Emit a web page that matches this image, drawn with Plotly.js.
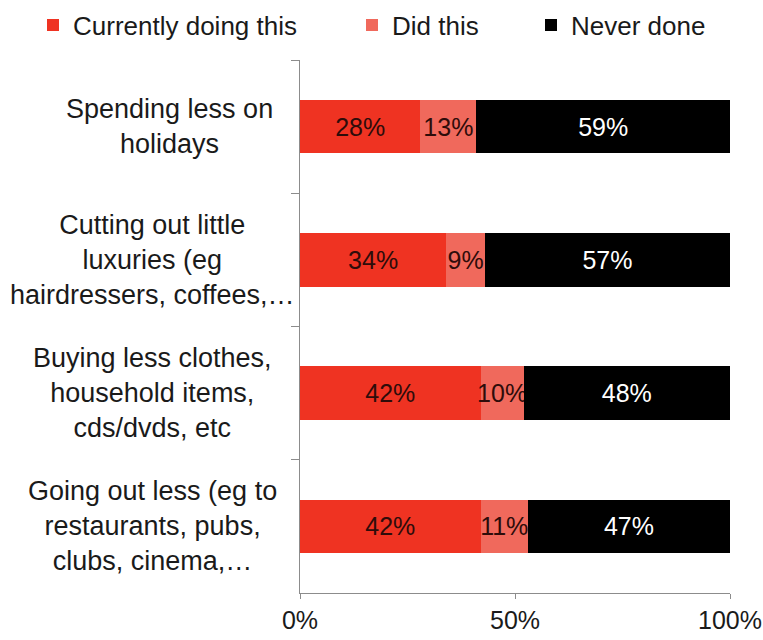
<!DOCTYPE html>
<html>
<head>
<meta charset="utf-8">
<script src="https://cdn.plot.ly/plotly-3.0.1.min.js"></script>
<style>
  html, body { margin: 0; padding: 0; background: #fff; }
  #chart { width: 763px; height: 640px; }
</style>
</head>
<body>
<div id="chart"></div>
<script>
// ---- data ----
var categories = [
  "Spending less on<br>holidays",
  "Cutting out little<br>luxuries (eg<br>hairdressers, coffees,…",
  "Buying less clothes,<br>household items,<br>cds/dvds, etc",
  "Going out less (eg to<br>restaurants, pubs,<br>clubs, cinema,…"
];
var categoryKeys = ["holidays", "luxuries", "clothes", "goingout"];
var seriesNames = ["Currently doing this", "Did this", "Never done"];
var currentlyDoing = [28, 34, 42, 42];
var didThis = [13, 9, 10, 11];
var neverDone = [59, 57, 48, 47];
var xTickVals = [0, 50, 100];
var xTickText = ["0%", "50%", "100%"];

// ---- styling ----
var FONT = "Liberation Sans, Arial, sans-serif";
var colors = ["#EF3322", "#F0695C", "#000000"];
var textColors = ["#2e0c0a", "#2e0c0a", "#ffffff"];
var values = [currentlyDoing, didThis, neverDone];
var legendNames = ["legend", "legend2", "legend3"];

var traces = values.map(function (vals, i) {
  return {
    type: "bar",
    orientation: "h",
    name: seriesNames[i],
    x: vals,
    y: categoryKeys,
    marker: { color: colors[i], line: { width: 0 } },
    text: vals.map(function (v) { return v + "%"; }),
    textposition: "inside",
    insidetextanchor: "middle",
    textangle: 0,
    constraintext: "none",
    textfont: { family: FONT, size: 25, color: textColors[i] },
    hoverinfo: "name+x",
    legend: legendNames[i],
    cliponaxis: false
  };
});

var annotations = categories.map(function (c, i) {
  return {
    xref: "paper", yref: "y",
    x: 0, y: categoryKeys[i],
    xanchor: "center", yanchor: "middle",
    xshift: i === 0 ? -131 : -148,
    text: c,
    showarrow: false,
    align: "center",
    font: { family: FONT, size: 27, color: "#1a1a1a" }
  };
});

function legendAt(px) {
  return {
    orientation: "h",
    xref: "container", yref: "container",
    x: px / 763, y: 1 - 25 / 640,
    xanchor: "left", yanchor: "middle",
    font: { family: FONT, size: 26, color: "#1a1a1a" },
    bgcolor: "rgba(0,0,0,0)",
    itemclick: false, itemdoubleclick: false
  };
}

var layout = {
  width: 763, height: 640,
  margin: { l: 300, r: 33, t: 60, b: 47, pad: 0 },
  paper_bgcolor: "#ffffff",
  plot_bgcolor: "#ffffff",
  barmode: "stack",
  bargap: 0.6,
  showlegend: true,
  legend: legendAt(33),
  legend2: legendAt(352),
  legend3: legendAt(531),
  xaxis: {
    range: [0, 100],
    tickvals: xTickVals,
    ticktext: xTickText,
    showgrid: false,
    zeroline: false,
    showline: true,
    linecolor: "#8c8c8c",
    linewidth: 1,
    ticks: "outside",
    ticklen: 5,
    tickcolor: "#8c8c8c",
    tickfont: { family: FONT, size: 25, color: "#1a1a1a" },
    fixedrange: true
  },
  yaxis: {
    type: "category",
    categoryorder: "array",
    categoryarray: categoryKeys,
    autorange: "reversed",
    tickson: "boundaries",
    ticks: "outside",
    ticklen: 8,
    tickcolor: "#8c8c8c",
    showticklabels: false,
    showgrid: false,
    zeroline: false,
    showline: true,
    linecolor: "#8c8c8c",
    linewidth: 1,
    fixedrange: true
  },
  annotations: annotations,
  font: { family: FONT }
};

Plotly.newPlot("chart", traces, layout, { displayModeBar: false, staticPlot: false });
</script>
</body>
</html>
